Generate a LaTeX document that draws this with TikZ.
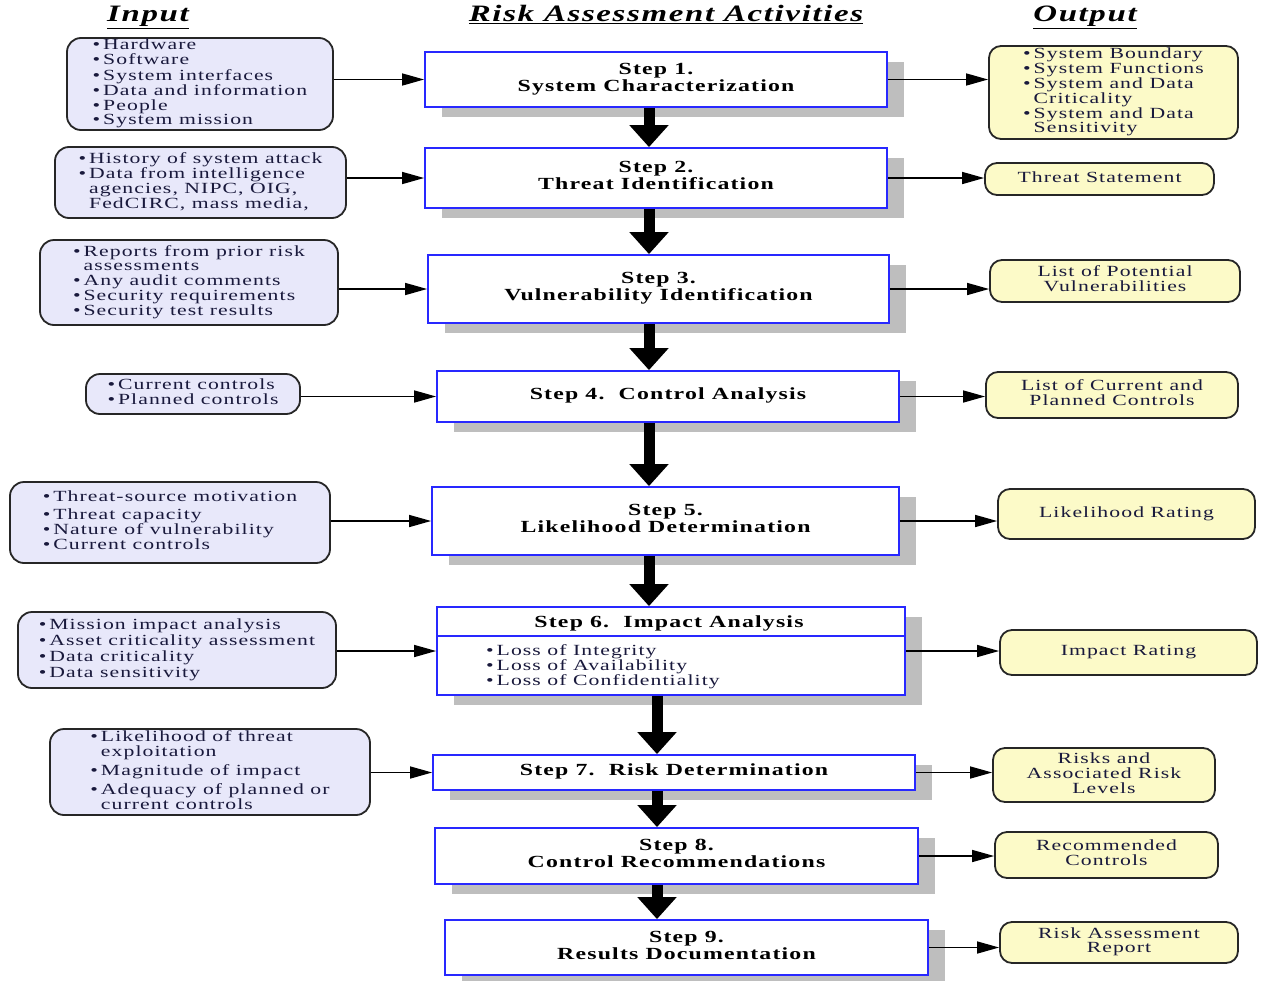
\documentclass[tikz,border=0pt]{standalone}
\usepackage{fontspec}
\usepackage{graphicx}
\setmainfont{Liberation Serif}[LetterSpace=5]
\usetikzlibrary{arrows.meta,shadows}
\definecolor{stepblue}{RGB}{40,40,255}
\definecolor{inFill}{RGB}{232,232,250}
\definecolor{outFill}{RGB}{252,250,200}
\definecolor{txt}{RGB}{25,25,60}
\definecolor{shade}{RGB}{190,190,190}
\newcommand\bu{\makebox[7.5pt][l]{•}}
\newcommand\ind{\hspace*{7.5pt}}
\newcommand\TL[1]{\scalebox{1.4}[1]{\begin{tabular}{@{}l@{}}#1\end{tabular}}}
\newcommand\TC[1]{\scalebox{1.4}[1]{\begin{tabular}{@{}c@{}}#1\end{tabular}}}
\begin{document}
\begin{tikzpicture}[x=1pt,y=-1pt,
  stepbox/.style={draw=stepblue,line width=1.8pt,fill=white,
    drop shadow={shadow xshift=17pt,shadow yshift=-10pt,fill=shade,opacity=1},
    font=\fontsize{17}{17}\selectfont\bfseries,inner sep=0pt},
  inbox/.style={draw=black!85,line width=1.8pt,fill=inFill,rounded corners=14pt,
    text=txt,font=\fontsize{15.5}{14.3}\selectfont,inner sep=0pt},
  outbox/.style={draw=black!85,line width=1.8pt,fill=outFill,rounded corners=12pt,
    text=txt,font=\fontsize{15.5}{14.3}\selectfont,inner sep=0pt},
  header/.style={font=\fontsize{23.5}{24}\selectfont\bfseries\itshape},
  thinarrow/.style={line width=1.5pt,-{Triangle[length=22pt,width=12pt]}},
  bigarrow/.style={line width=11pt,-{Triangle[length=22pt,width=38pt]}}]
\useasboundingbox (0,0) rectangle (1261,980);

% headers
\node[header] (hin) at (148,17) {\TC{\underline{Input}}};
\node[header] (hmid) at (666,17) {\TC{\underline{Risk Assessment Activities}}};
\node[header] (hout) at (1085,17) {\TC{\underline{Output}}};

% steps
\node[stepbox,minimum width=462pt,minimum height=55pt] (s1) at (656,79.5) {\TC{Step 1.\\System Characterization}};
\node[stepbox,minimum width=462pt,minimum height=60pt] (s2) at (656,178) {\TC{Step 2.\\Threat Identification}};
\node[stepbox,minimum width=461pt,minimum height=68pt] (s3) at (658.5,289) {\TC{Step 3.\\Vulnerability Identification}};
\node[stepbox,minimum width=462pt,minimum height=51pt] (s4) at (668,396.5) {\TC{Step 4.\ \ Control Analysis}};
\node[stepbox,minimum width=467pt,minimum height=68pt] (s5) at (665.5,521) {\TC{Step 5.\\Likelihood Determination}};
\node[stepbox,minimum width=468pt,minimum height=88pt] (s6) at (671,651) {};
\draw[stepblue,line width=1.5pt] ([yshift=-30pt]s6.north west) -- ([yshift=-30pt]s6.north east);
\node[font=\fontsize{17}{17}\selectfont\bfseries,inner sep=0pt] (s6t) at (669,624) {\TC{Step 6.\ \ Impact Analysis}};
\node[text=txt,font=\fontsize{15.5}{14.8}\selectfont,anchor=north west,inner sep=0pt] (s6b) at (486,644)
  {\TL{\bu Loss of Integrity\\\bu Loss of Availability\\\bu Loss of Confidentiality}};
\node[stepbox,minimum width=482pt,minimum height=35pt] (s7) at (674,772.5) {\TC{Step 7.\ \ Risk Determination}};
\node[stepbox,minimum width=483pt,minimum height=56pt] (s8) at (676.5,856) {\TC{Step 8.\\Control Recommendations}};
\node[stepbox,minimum width=483pt,minimum height=55pt] (s9) at (686.5,947.5) {\TC{Step 9.\\Results Documentation}};

% inputs
\node[inbox,minimum width=266pt,minimum height=92pt] (in1) at (200,84)
  {\TL{\bu Hardware\\\bu Software\\\bu System interfaces\\\bu Data and information\\\bu People\\\bu System mission}};
\node[inbox,minimum width=291pt,minimum height=71pt] (in2) at (200.5,182.5)
  {\TL{\bu History of system attack\\\bu Data from intelligence\\\ind agencies, NIPC, OIG,\\\ind FedCIRC, mass media,}};
\node[inbox,minimum width=298pt,minimum height=85pt] (in3) at (189,282.5)
  {\TL{\bu Reports from prior risk\\\ind assessments\\\bu Any audit comments\\\bu Security requirements\\\bu Security test results}};
\node[inbox,minimum width=214pt,minimum height=40pt] (in4) at (193,394)
  {\TL{\bu Current controls\\\bu Planned controls}};
\node[inbox,minimum width=320pt,minimum height=81pt] (in5) at (170,522.5)
  {\TL{\bu Threat-source motivation\\[3pt]\bu Threat capacity\\\bu Nature of vulnerability\\\bu Current controls}};
\node[inbox,minimum width=318pt,minimum height=76pt] (in6) at (177,650)
  {\TL{\bu Mission impact analysis\\[1pt]\bu Asset criticality assessment\\[1pt]\bu Data criticality\\[1pt]\bu Data sensitivity}};
\node[inbox,minimum width=320pt,minimum height=86pt] (in7) at (210,772)
  {\TL{\bu Likelihood of threat\\\ind exploitation\\[4pt]\bu Magnitude of impact\\[4pt]\bu Adequacy of planned or\\\ind current controls}};

% outputs
\node[outbox,minimum width=249pt,minimum height=93pt] (out1) at (1113.5,92.5)
  {\TL{\bu System Boundary\\\bu System Functions\\\bu System and Data\\\ind Criticality\\\bu System and Data\\\ind Sensitivity}};
\node[outbox,minimum width=229pt,minimum height=32pt] (out2) at (1099.5,179) {\TC{Threat Statement}};
\node[outbox,minimum width=250pt,minimum height=42pt] (out3) at (1115,281) {\TC{List of Potential\\Vulnerabilities}};
\node[outbox,minimum width=252pt,minimum height=46pt] (out4) at (1112,395) {\TC{List of Current and\\Planned Controls}};
\node[outbox,minimum width=257pt,minimum height=50pt] (out5) at (1126.5,514) {\TC{Likelihood Rating}};
\node[outbox,minimum width=257pt,minimum height=45pt] (out6) at (1128.5,652.5) {\TC{Impact Rating}};
\node[outbox,minimum width=222pt,minimum height=54pt] (out7) at (1104,775) {\TC{Risks and\\Associated Risk\\Levels}};
\node[outbox,minimum width=223pt,minimum height=46pt] (out8) at (1106.5,855) {\TC{Recommended\\Controls}};
\node[outbox,minimum width=238pt,minimum height=41pt] (out9) at (1119,942.5) {\TC{Risk Assessment\\Report}};

% big arrows
\coordinate (ax1) at (649,0);
\coordinate (ax2) at (657,0);
\draw[bigarrow] (s1.south -| ax1) -- (s2.north -| ax1);
\draw[bigarrow] (s2.south -| ax1) -- (s3.north -| ax1);
\draw[bigarrow] (s3.south -| ax1) -- (s4.north -| ax1);
\draw[bigarrow] (s4.south -| ax1) -- (s5.north -| ax1);
\draw[bigarrow] (s5.south -| ax1) -- (s6.north -| ax1);
\draw[bigarrow] (s6.south -| ax2) -- (s7.north -| ax2);
\draw[bigarrow] (s7.south -| ax2) -- (s8.north -| ax2);
\draw[bigarrow] (s8.south -| ax2) -- (s9.north -| ax2);

% input arrows
\foreach \i in {1,...,7} {
  \draw[thinarrow] (in\i.east |- s\i.west) -- (s\i.west);
}
% output arrows
\foreach \i in {1,...,9} {
  \draw[thinarrow] (s\i.east) -- (s\i.east -| out\i.west);
}
\end{tikzpicture}
\end{document}
